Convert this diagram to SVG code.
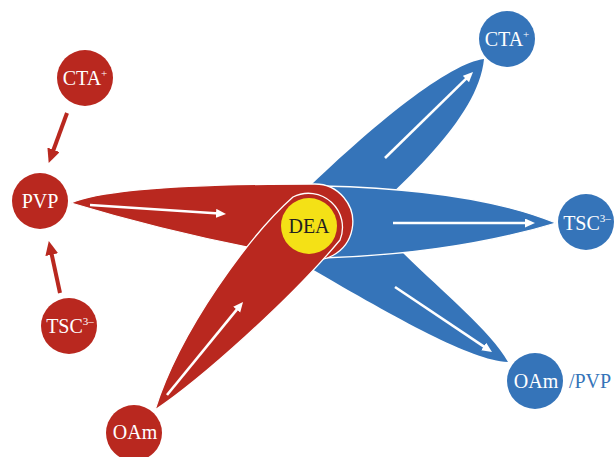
<svg xmlns="http://www.w3.org/2000/svg" width="614" height="457" viewBox="0 0 614 457">
<style>
.red{fill:#b9281f}
.blue{fill:#3574b9}
.petal{stroke:#ffffff;stroke-width:1.3;stroke-linejoin:round}
.lbl{font-family:"Liberation Serif","Times New Roman",serif;font-size:20px;fill:#ffffff;text-anchor:middle}
.sup{font-size:11px}
.warr{stroke:#ffffff;stroke-width:2.6;fill:none}
.rarr{stroke:#b9281f;stroke-width:4;fill:none}
</style>
<defs>
<marker id="wh" markerUnits="userSpaceOnUse" markerWidth="12" markerHeight="10" refX="3" refY="4.5" orient="auto">
<path d="M0,0 L10,4.5 L0,9 Z" fill="#ffffff"/>
</marker>
<marker id="rh" markerUnits="userSpaceOnUse" markerWidth="16" markerHeight="14" refX="5" refY="6.5" orient="auto">
<path d="M0,0 L14,6.5 L0,13 Z" fill="#b9281f"/>
</marker>
</defs>

<g id="petals">
<path id="petal-blue-up" class="blue" d="M484,59 C450,63 375,122 296,200 L345,238 C400,185 478,120 484,59 Z"/>
<path id="petal-blue-down" class="blue" d="M330,240 L400,250 C440,290 490,330 508,362 C470,360 400,320 310,268 Z"/>
<path id="petal-blue-right" class="blue petal" d="M322,186 C420,188 500,200 556,223 C500,240 420,255 322,258 A36,36 0 0 1 322,186 Z"/>
<path id="petal-red-left" class="red petal" d="M71,203 C100,190 180,184 314,184 A38,38 0 1 1 300,257 Q180,236 71,203 Z"/>
<path id="petal-red-diag" class="red petal" d="M155,410 C200,380 290,300 340,240 A34,34 0 0 0 293,197 C250,235 180,330 155,410 Z"/>
</g>

<g id="connectors">
<line class="warr" x1="90" y1="205" x2="219" y2="213.5" marker-end="url(#wh)"/>
<line class="warr" x1="167" y1="395" x2="238.6" y2="307.4" marker-end="url(#wh)"/>
<line class="warr" x1="385" y1="158" x2="468" y2="76.9" marker-end="url(#wh)"/>
<line class="warr" x1="393" y1="223" x2="528" y2="223" marker-end="url(#wh)"/>
<line class="warr" x1="395" y1="287" x2="486.2" y2="348.1" marker-end="url(#wh)"/>
<line class="rarr" x1="67" y1="113" x2="51.8" y2="154.5" marker-end="url(#rh)"/>
<line class="rarr" x1="60" y1="293" x2="50.7" y2="249.8" marker-end="url(#rh)"/>
</g>

<g id="node-dea">
<circle cx="309" cy="226" r="28" fill="#f4e116"/>
<text class="lbl" x="309" y="233" style="fill:#231f20">DEA</text>
</g>

<g id="node-cta-red">
<circle class="red" cx="85" cy="78" r="28"/>
<text class="lbl" x="85" y="85">CTA<tspan class="sup" dy="-8">+</tspan></text>
</g>
<g id="node-pvp-red">
<circle class="red" cx="40" cy="201" r="28"/>
<text class="lbl" x="40" y="208">PVP</text>
</g>
<g id="node-tsc-red">
<circle class="red" cx="69" cy="326" r="28"/>
<text class="lbl" x="70" y="333">TSC<tspan class="sup" dy="-8">3–</tspan></text>
</g>
<g id="node-oam-red">
<circle class="red" cx="134" cy="433" r="28"/>
<text class="lbl" x="135" y="439">OAm</text>
</g>

<g id="node-cta-blue">
<circle class="blue" cx="507" cy="39" r="28"/>
<text class="lbl" x="507" y="46">CTA<tspan class="sup" dy="-8">+</tspan></text>
</g>
<g id="node-tsc-blue">
<circle class="blue" cx="586" cy="222" r="28"/>
<text class="lbl" x="587" y="230">TSC<tspan class="sup" dy="-8">3–</tspan></text>
</g>
<g id="node-oam-blue">
<circle class="blue" cx="535" cy="381" r="28"/>
<text class="lbl" x="536" y="388">OAm</text>
<text class="lbl" x="590" y="388" style="fill:#3574b9">/PVP</text>
</g>
</svg>
